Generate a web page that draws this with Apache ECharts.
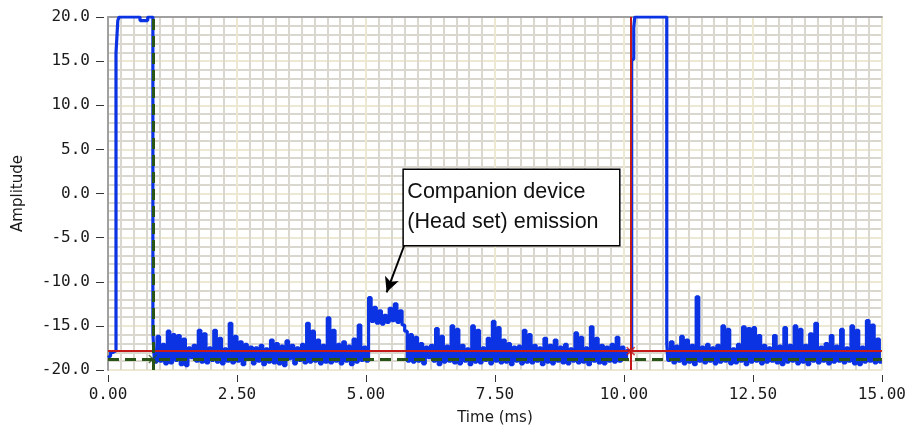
<!DOCTYPE html>
<html>
<head>
<meta charset="utf-8">
<script src="https://cdn.jsdelivr.net/npm/echarts@6/dist/echarts.min.js"></script>
<style>
  html, body { margin: 0; padding: 0; background: #ffffff; }
  #chart { width: 909px; height: 431px; }
</style>
</head>
<body>
<div id="chart"></div>
<script>
// Axis ranges and tick spacing
const timeRange = [0, 15];
const timeTickStep = 2.5;
const ampRange = [-20, 20];
const ampTickStep = 5;

// First transmit pulse, [time ms, amplitude]
const pulseOne = [
  [0, -18.6], [0.05, -18.4], [0.10, -18.0], [0.155, -17.8], [0.19, 15.9],
  [0.215, 19.6], [0.26, 20], [0.62, 20], [0.77, 19.6], [0.87, 20]
];

// Noise floor between the pulses, one value every 0.05 ms from 0.90 ms (one row per ms)
const sampleStep = 0.05;
const noiseStartA = 0.90;
const noiseA = [
  -15.8, -19.1, -16.2, -19.0, -17.1, -19.3, -15.6, -19.2, -16.0, -18.9, -16.1, -19.4, -16.5, -19.5, -17.5, -18.6, -17.2, -19.0, -15.5, -19.1,
  -15.9, -19.2, -17.5, -18.9, -15.5, -19.1, -16.4, -19.3, -17.6, -19.0, -14.7, -19.2, -16.2, -19.0, -16.8, -19.4, -17.1, -18.6, -17.4, -19.3,
  -17.5, -19.0, -17.2, -19.4, -17.6, -19.1, -16.6, -19.2, -17.0, -19.3, -17.3, -19.5, -16.7, -18.7, -17.2, -19.3, -17.5, -18.9, -17.1, -19.2,
  -14.7, -19.1, -15.6, -19.0, -16.6, -19.3, -17.2, -19.1, -14.1, -19.2, -15.5, -19.0, -17.1, -19.3, -16.8, -19.0, -17.3, -19.4, -16.5, -19.1,
  -14.9, -18.9, -17.4, -19.0, -11.8, -14.5, -12.9, -14.7, -13.3, -14.8, -13.8, -14.6, -13.0, -14.4, -12.5, -14.6, -13.3, -14.9, -15.6, -19.0,
  -16.0, -19.1, -16.3, -19.0, -17.0, -19.3, -17.4, -18.6, -17.2, -19.0, -15.3, -19.4, -16.2, -19.1, -17.3, -19.0, -15.0, -19.2, -15.4, -19.3,
  -17.2, -19.0, -17.6, -19.4, -15.0, -19.1, -15.5, -19.2, -17.5, -18.9, -16.4, -19.3, -14.5, -19.0, -15.2, -19.2, -16.6, -19.1, -17.0, -19.4,
  -17.4, -19.0, -17.3, -19.3, -15.5, -19.1, -16.0, -19.2, -17.2, -19.0, -17.5, -19.4, -16.4, -19.1, -17.2, -19.3, -16.6, -19.0, -17.4, -19.2,
  -17.1, -19.3, -17.6, -19.0, -15.8, -19.2, -16.3, -19.1, -17.5, -19.4, -15.1, -19.0, -16.4, -19.2, -17.2, -19.3, -17.4, -19.0, -17.1, -19.1,
  -16.3, -19.0, -17.4, -18.8, -17.8
];

// Second transmit pulse
const pulseTwo = [
  [10.15, -17.9], [10.19, 15.2], [10.21, 18.8], [10.25, 20], [10.83, 20]
];

// Noise floor after the second pulse, from 10.85 ms (one row per ms)
const noiseStartB = 10.85;
const noiseB = [
  -17.0, -18.9, -16.8, -19.2, -17.3, -19.0, -16.2, -19.3, -16.6, -19.1, -17.2, -19.4, -11.7, -19.0, -17.4, -19.2, -17.1, -19.0, -17.5, -19.3,
  -17.2, -19.1, -15.0, -19.0, -15.4, -19.3, -17.6, -19.2, -17.1, -19.0, -15.1, -19.4, -15.3, -19.1, -15.2, -19.0, -16.1, -19.3, -17.2, -19.1,
  -17.5, -19.0, -16.1, -19.2, -17.3, -19.4, -15.2, -19.1, -17.2, -19.0, -15.0, -19.3, -15.4, -19.1, -17.2, -19.4, -15.9, -19.0, -14.7, -19.2,
  -17.4, -19.0, -17.0, -19.3, -16.1, -19.1, -17.3, -19.0, -15.4, -19.2, -17.5, -19.0, -15.0, -19.3, -15.5, -19.4, -17.4, -19.1, -14.4, -19.0,
  -14.9, -19.2, -16.5, -19.1
];

// Cursors: [time ms, amplitude]
const redCursor = [10.13, -17.86];
const greenCursor = [0.87, -18.76];

// Callout text and its placement in data units
const noteLines = ['Companion device', '(Head set) emission'];
const noteBox = [[5.72, 2.76], [9.92, -5.92]];
const noteArrow = [[5.74, -5.92], [5.40, -11.2]];

function sampled(start, values) {
  return values.map((v, i) => [Math.round((start + i * sampleStep) * 1000) / 1000, v]);
}

const signal = pulseOne
  .concat(sampled(noiseStartA, noiseA))
  .concat(pulseTwo)
  .concat(sampled(noiseStartB, noiseB));

const tickFont = 'DejaVu Sans Mono';
const titleFont = 'DejaVu Sans';
const majorGrid = { color: '#ece8d2', width: 2 };
const minorGrid = { color: '#dad7cf', width: 2 };
const crossSymbol = 'path://M0,0L10,10M10,0L0,10';

const chart = echarts.init(document.getElementById('chart'), null, { renderer: 'canvas' });

chart.setOption({
  animation: false,
  backgroundColor: '#ffffff',
  grid: { left: 108, right: 25, top: 17, bottom: 59 },
  xAxis: [
    {
      type: 'value',
      min: timeRange[0], max: timeRange[1], interval: timeTickStep,
      offset: 5,
      axisLine: { show: false, onZero: false },
      axisTick: { show: true, length: 7, lineStyle: { color: '#333333', width: 1 } },
      axisLabel: {
        formatter: v => v.toFixed(2), margin: 12,
        fontFamily: tickFont, fontSize: 16, color: '#1a1a1a'
      },
      splitLine: { show: true, lineStyle: majorGrid },
      minorTick: { show: false, splitNumber: 10 },
      minorSplitLine: { show: true, lineStyle: minorGrid },
      name: 'Time (ms)', nameLocation: 'middle', nameGap: 36,
      nameTextStyle: { fontFamily: titleFont, fontSize: 15, color: '#1a1a1a' }
    },
    {
      type: 'value', position: 'top',
      min: timeRange[0], max: timeRange[1],
      axisLine: { show: true, onZero: false, lineStyle: { color: '#a0a0a0', width: 2 } },
      axisTick: { show: false }, axisLabel: { show: false }, splitLine: { show: false }
    }
  ],
  yAxis: [
    {
      type: 'value',
      min: ampRange[0], max: ampRange[1], interval: ampTickStep,
      offset: 4,
      axisLine: { show: false, onZero: false },
      axisTick: { show: true, length: 8, lineStyle: { color: '#333333', width: 1 } },
      axisLabel: {
        formatter: v => v.toFixed(1), margin: 14,
        fontFamily: tickFont, fontSize: 16, color: '#1a1a1a'
      },
      splitLine: { show: true, lineStyle: majorGrid },
      minorTick: { show: false, splitNumber: 5 },
      minorSplitLine: { show: true, lineStyle: minorGrid },
      name: 'Amplitude', nameLocation: 'middle', nameGap: 78,
      nameTextStyle: { fontFamily: titleFont, fontSize: 15, color: '#1a1a1a' }
    },
    {
      type: 'value', position: 'left',
      min: ampRange[0], max: ampRange[1],
      axisLine: { show: true, onZero: false, lineStyle: { color: '#a0a0a0', width: 2 } },
      axisTick: { show: false }, axisLabel: { show: false }, splitLine: { show: false }
    }
  ],
  series: [
    {
      name: 'Amplitude',
      type: 'line',
      data: signal,
      step: 'start',
      symbol: 'none',
      silent: true,
      z: 3,
      lineStyle: { color: '#0b33e4', width: 3.2 }
    },
    {
      name: 'Cursor 1',
      type: 'scatter',
      data: [redCursor],
      symbol: crossSymbol,
      symbolSize: 8,
      silent: true,
      z: 5,
      itemStyle: { color: 'rgba(0,0,0,0)', borderColor: '#c41a1a', borderWidth: 1.5 },
      markLine: {
        silent: true, symbol: 'none', animation: false,
        label: { show: false },
        lineStyle: { color: '#c41a1a', width: 2, type: 'solid' },
        data: [{ xAxis: redCursor[0] }, { yAxis: redCursor[1] }]
      }
    },
    {
      name: 'Cursor 2',
      type: 'scatter',
      data: [greenCursor],
      symbol: crossSymbol,
      symbolSize: 8,
      silent: true,
      z: 5,
      itemStyle: { color: 'rgba(0,0,0,0)', borderColor: '#285418', borderWidth: 1.5 },
      markLine: {
        silent: true, symbol: 'none', animation: false,
        label: { show: false },
        lineStyle: { color: '#285418', width: 3, type: [11, 6] },
        data: [{ xAxis: greenCursor[0] }, { yAxis: greenCursor[1] }]
      }
    },
    {
      name: 'Callout',
      type: 'line',
      data: [],
      silent: true,
      z: 6,
      markArea: {
        silent: true,
        itemStyle: { color: '#ffffff', borderColor: '#000000', borderWidth: 1.5 },
        label: {
          show: true, position: 'insideLeft', distance: 5,
          formatter: noteLines.join('\n'),
          fontFamily: 'Liberation Sans', fontSize: 21.5, lineHeight: 30, color: '#111111'
        },
        data: [[{ coord: noteBox[0] }, { coord: noteBox[1] }]]
      },
      markLine: {
        silent: true, animation: false,
        symbol: ['none', 'arrow'], symbolSize: [11, 15],
        label: { show: false },
        lineStyle: { color: '#000000', width: 2, type: 'solid' },
        data: [[{ coord: noteArrow[0] }, { coord: noteArrow[1] }]]
      }
    }
  ]
});
</script>
</body>
</html>
